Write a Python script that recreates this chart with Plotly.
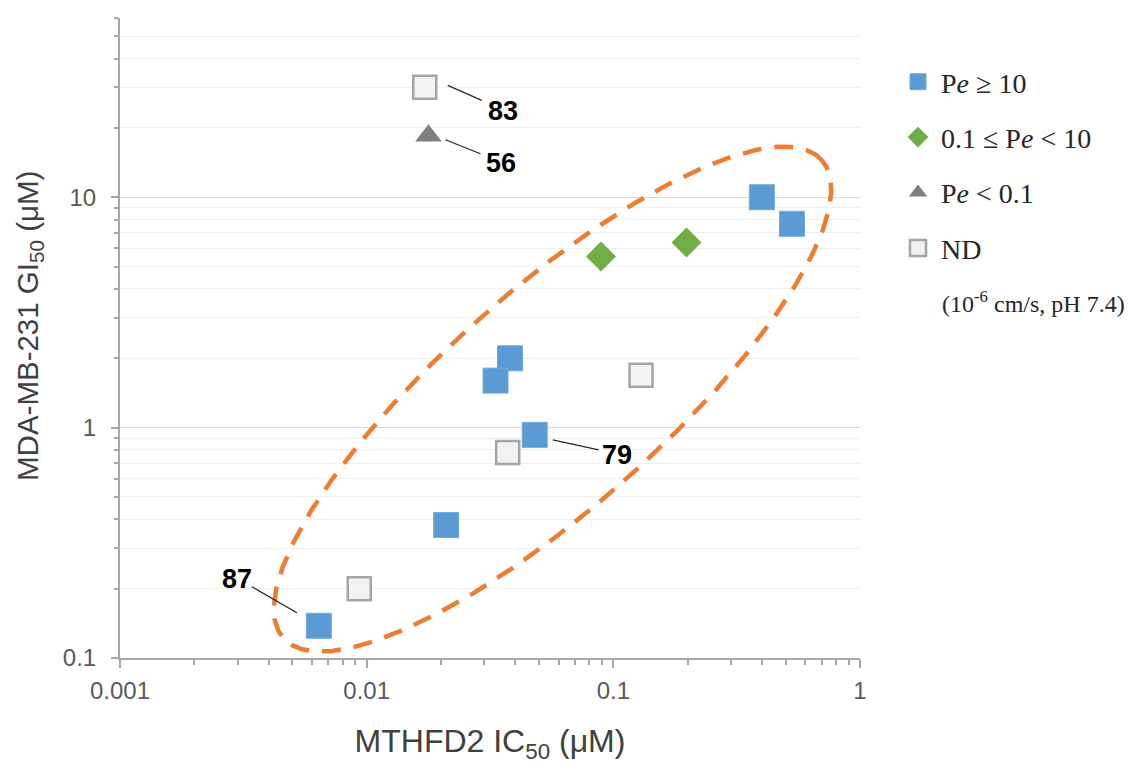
import numpy as np
import plotly.graph_objects as go

# ---- data ----
blue_x = [0.40, 0.53, 0.0381, 0.0333, 0.048, 0.021, 0.0064]
blue_y = [10.0, 7.67, 2.0, 1.60, 0.93, 0.378, 0.138]
green_x = [0.0891, 0.198]
green_y = [5.53, 6.36]
tri_x = [0.0178]
tri_y = [18.5]
nd_x = [0.0172, 0.1295, 0.0373, 0.00933]
nd_y = [30.0, 1.69, 0.779, 0.20]

labels = ["83", "56", "79", "87"]
label_x = [0.0172, 0.0178, 0.048, 0.0064]
label_y = [30.0, 18.5, 0.93, 0.138]
# text offsets and leader offsets in pixels (screen, y up)
label_shift = [(78, -24), (73, -27), (82, -20), (-82, 47)]
leader = [((23, 2), (57, -13)), ((17, -4), (52, -18)), ((18, -5), (64, -15)), ((-67, 39), (-22, 13))]

x_ticks = [0.001, 0.01, 0.1, 1]
x_ticktext = ["0.001", "0.01", "0.1", "1"]
y_ticks = [0.1, 1, 10]
y_ticktext = ["0.1", "1", "10"]
x_minor = [m * d for d in [0.001, 0.01, 0.1] for m in range(2, 10)]
y_minor = [m * d for d in [0.1, 1] for m in range(2, 10)] + [20, 30, 40, 50, 60]

# page has an 8px body margin; figure sized to fit the 1132x764 window
OFF = 8
W, H = 1132 - OFF, 764 - OFF
L, T = 120 - OFF, 18 - OFF
R = W - (860 - OFF)
B = H - (658 - OFF)
PW, PH = W - L - R, H - T - B
xr = [-3, 0]
yr = [-1, np.log10(60)]
px_per_dec_x = PW / (xr[1] - xr[0])
px_per_dec_y = PH / (yr[1] - yr[0])

# ellipse (drawn in screen-proportional log space)
ell_cx, ell_cy = 0.0567, 1.33
ell_a, ell_b, ell_ang = 360, 108.6, np.deg2rad(41.6)
t = np.linspace(0, 2 * np.pi, 500)
ex = ell_a * np.cos(t) * np.cos(ell_ang) - ell_b * np.sin(t) * np.sin(ell_ang)
ey = ell_a * np.cos(t) * np.sin(ell_ang) + ell_b * np.sin(t) * np.cos(ell_ang)
ell_x = 10 ** (np.log10(ell_cx) + ex / px_per_dec_x)
ell_y = 10 ** (np.log10(ell_cy) + ey / px_per_dec_y)

# leader lines: pixel offsets from each labelled point, converted through the log scales
lead_x, lead_y = [], []
for lx, ly, ((x0, y0), (x1, y1)) in zip(label_x, label_y, leader):
    for dx, dy in ((x0, y0), (x1, y1)):
        lead_x.append(10 ** (np.log10(lx) + dx / px_per_dec_x))
        lead_y.append(10 ** (np.log10(ly) + dy / px_per_dec_y))
    lead_x.append(None)
    lead_y.append(None)

fig = go.Figure()
fig.add_trace(go.Scatter(x=ell_x, y=ell_y, mode="lines",
                         line=dict(color="#ED7D31", width=4.5, dash="19px,13px"),
                         showlegend=False, hoverinfo="skip"))
fig.add_trace(go.Scatter(x=lead_x, y=lead_y, mode="lines",
                         line=dict(color="#262626", width=1.2),
                         showlegend=False, hoverinfo="skip"))
fig.add_trace(go.Scatter(x=nd_x, y=nd_y, mode="markers", name="ND",
                         marker=dict(symbol="square", size=23, color="#F2F2F2",
                                     line=dict(color="#A5A5A5", width=2.5)),
                         legendgroup="d", legendrank=4))
fig.add_trace(go.Scatter(x=tri_x, y=tri_y, mode="markers", name="P<i>e</i> < 0.1",
                         marker=dict(symbol="triangle-up", size=23, color="#7F7F7F",
                                     line=dict(width=0)),
                         legendgroup="c", legendrank=3))
fig.add_trace(go.Scatter(x=green_x, y=green_y, mode="markers", name="0.1 ≤ P<i>e</i> < 10",
                         marker=dict(symbol="diamond", size=23, color="#70AD47",
                                     line=dict(width=0)),
                         legendgroup="b", legendrank=2))
fig.add_trace(go.Scatter(x=blue_x, y=blue_y, mode="markers", name="P<i>e</i> ≥ 10",
                         marker=dict(symbol="square", size=25, color="#5B9BD5",
                                     line=dict(color="#6FA8DC", width=1)),
                         legendgroup="a", legendrank=1))

annotations = []
for lab, lx, ly, (sx, sy) in zip(labels, label_x, label_y, label_shift):
    annotations.append(dict(x=np.log10(lx), y=np.log10(ly), xref="x", yref="y",
                            text=lab, showarrow=False, xshift=sx, yshift=sy,
                            xanchor="center", yanchor="middle",
                            font=dict(family="Liberation Sans", size=27, color="#000000",
                                      weight="bold")))
annotations.append(dict(x=(940 - 120) / PW, y=(658 - 302) / PH, xref="paper", yref="paper",
                        text="(10<sup>-6</sup> cm/s, pH 7.4)", showarrow=False,
                        xanchor="left", yanchor="middle",
                        font=dict(family="Liberation Serif", size=24, color="#262626")))
# y-axis title
annotations.append(dict(x=(29 - 120) / PW, y=(658 - 326) / PH, xref="paper", yref="paper",
                        text="MDA-MB-231 GI<sub>50</sub> (μM)", showarrow=False,
                        textangle=-90, xanchor="center", yanchor="middle",
                        font=dict(family="Liberation Sans", size=29.5, color="#404040")))

axis_common = dict(type="log", showline=True, linecolor="#A6A6A6", linewidth=2,
                   ticks="outside", tickcolor="#A6A6A6", tickwidth=1.5,
                   tickfont=dict(family="Liberation Sans", size=24, color="#595959"),
                   zeroline=False, automargin=False)

fig.update_layout(
    width=W, height=H,
    margin=dict(l=L, r=R, t=T, b=B),
    paper_bgcolor="white", plot_bgcolor="white",
    xaxis=dict(**axis_common, range=xr, tickvals=x_ticks, ticktext=x_ticktext,
               ticklen=8, showgrid=False, ticklabelstandoff=2,
               minor=dict(tickvals=x_minor, ticks="outside", ticklen=5,
                          tickcolor="#A6A6A6", tickwidth=1.5, showgrid=False),
               title=dict(text="MTHFD2 IC<sub>50</sub> (μM)", standoff=32,
                          font=dict(family="Liberation Sans", size=32, color="#404040"))),
    yaxis=dict(**axis_common, range=yr, tickvals=y_ticks, ticktext=y_ticktext,
               ticklen=7, showgrid=True, gridcolor="#D9D9D9", gridwidth=1.2,
               ticklabelstandoff=10,
               minor=dict(tickvals=y_minor, ticks="outside", ticklen=4,
                          tickcolor="#A6A6A6", tickwidth=1.5, showgrid=True,
                          gridcolor="#EFEFEF", gridwidth=1.2)),
    legend=dict(x=(895 - OFF) / W, y=1 - (57 - OFF) / H, xref="container", yref="container",
                xanchor="left", yanchor="top", traceorder="grouped", tracegroupgap=16,
                itemwidth=36,
                font=dict(family="Liberation Serif", size=28, color="#262626"),
                bgcolor="rgba(0,0,0,0)"),
    annotations=annotations,
)

fig.write_html("out.html")
